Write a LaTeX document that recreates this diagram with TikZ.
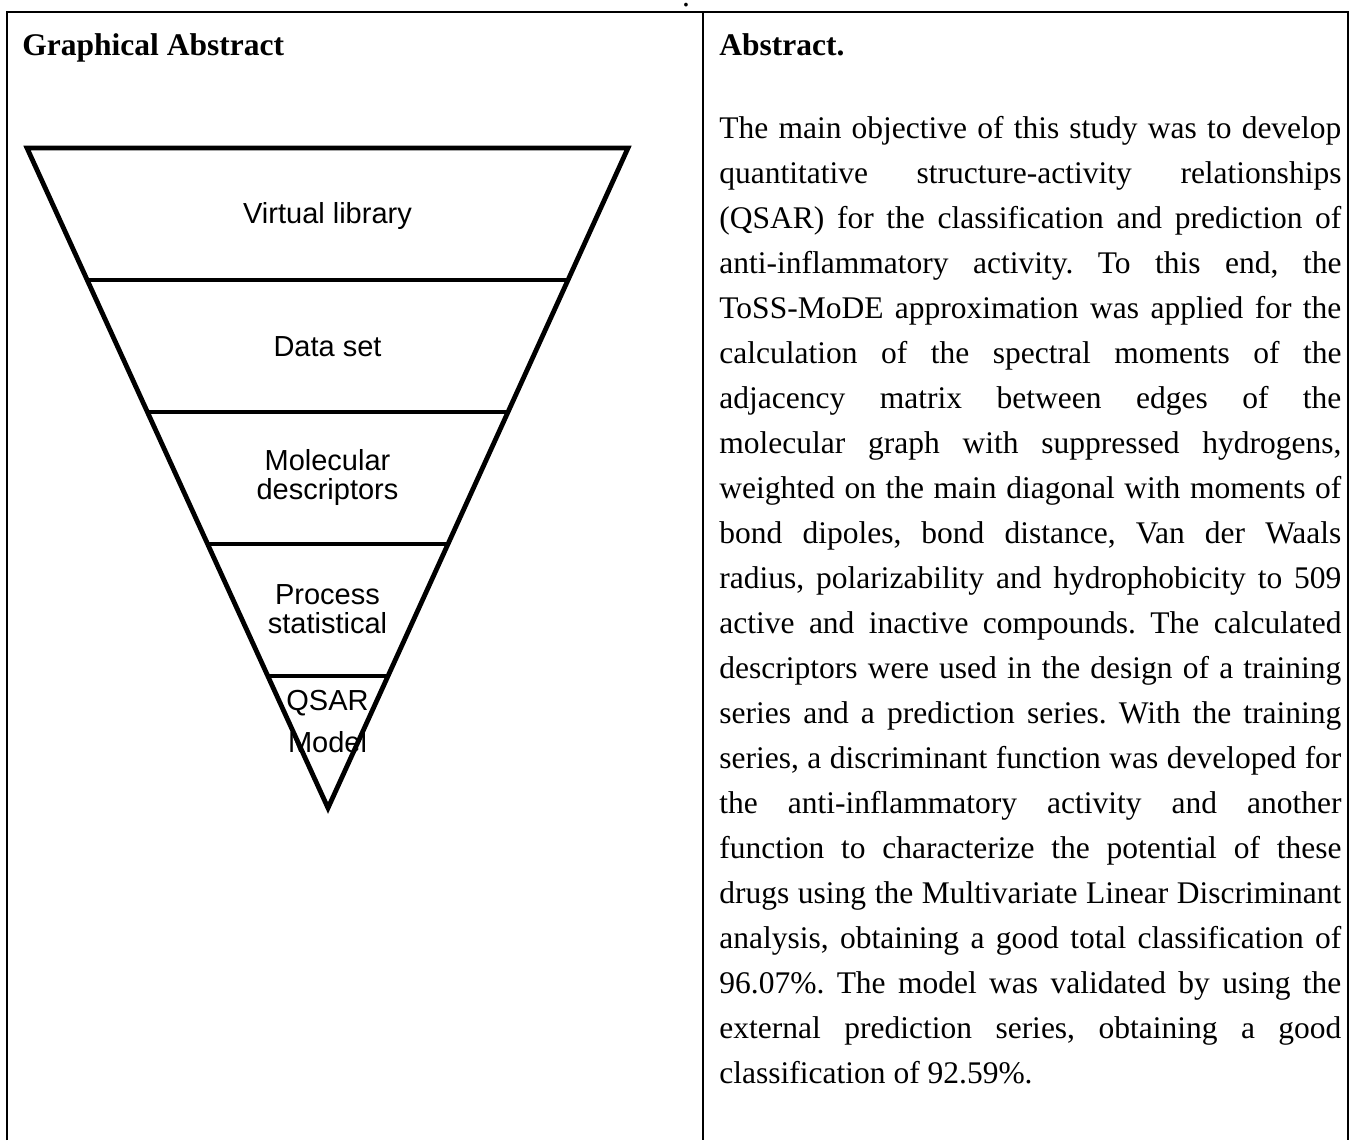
\documentclass[tikz,border=0pt]{standalone}
\usepackage{fontspec}
\setmainfont{Liberation Serif}
\newfontfamily\labelfont{Liberation Sans}
\usetikzlibrary{positioning, calc}
\hbadness=10000
\tolerance=10000
\frenchspacing
\begin{document}
\begin{tikzpicture}[x=0.5pt, y=-0.5pt,
      frame/.style={line width=1.3pt},
      band/.style={line width=2.4pt, line join=miter},
      head/.style={font=\fontsize{15.75}{18}\selectfont\bfseries,
                   anchor=base west, inner sep=0pt},
      lvl/.style={font=\labelfont\fontsize{14.5}{14.5}\selectfont,
                  align=center, inner sep=0pt},
      abs/.style={font=\fontsize{15.75}{22.5}\selectfont, text width=311pt,
                  align=justify, anchor=north west, inner sep=0pt}]
      \useasboundingbox (0,0) rectangle (1352,1140);
      \node[font=\fontsize{15.75}{18}\selectfont, anchor=base, inner sep=0pt]
        (dot) at (686,6.5) {.};
      \draw[frame] (7,1140) -- (7,12) -- (1348,12) -- (1348,1140);
      \draw[frame] (703,12) -- (703,1140);
      \node[head] (ghead) at (22,55)  {Graphical Abstract};
      \node[head] (ahead) at (719,55) {Abstract.};
      \coordinate (tl)  at (27,148);
      \coordinate (tr)  at (628,148);
      \coordinate (tip) at (328,808);
      \draw[band] (tl) -- (tr) -- (tip) -- cycle;
      \foreach \t in {0.2,0.4,0.6,0.8}
        \draw[band] ($(tl)!\t!(tip)$) -- ($(tr)!\t!(tip)$);
      \node[lvl] (lib)  at (327.5,216)   {Virtual library};
      \node[lvl] (data) at (327.5,347)   {Data set};
      \node[lvl] (desc) at (327.5,477.5) {Molecular\\descriptors};
      \node[lvl] (stat) at (327.5,609)   {Process\\statistical};
      \node[lvl, font=\labelfont\fontsize{14.5}{21}\selectfont]
        (qsar) at (327.5,722) {QSAR\\Model};
      \node[abs] (abstxt) at (719,115.7) {The main objective of this study was to develop\break
        quantitative structure-activity relationships\break
        (QSAR) for the classification and prediction of\break
        anti-inflammatory activity. To this end, the\break
        ToSS-MoDE approximation was applied for the\break
        calculation of the spectral moments of the\break
        adjacency matrix between edges of the\break
        molecular graph with suppressed hydrogens,\break
        weighted on the main diagonal with moments of\break
        bond dipoles, bond distance, Van der Waals\break
        radius, polarizability and hydrophobicity to 509\break
        active and inactive compounds. The calculated\break
        descriptors were used in the design of a training\break
        series and a prediction series. With the training\break
        series, a discriminant function was developed for\break
        the anti-inflammatory activity and another\break
        function to characterize the potential of these\break
        drugs using the Multivariate Linear Discriminant\break
        analysis, obtaining a good total classification of\break
        96.07\%. The model was validated by using the\break
        external prediction series, obtaining a good\break
        classification of 92.59\%.};
    \end{tikzpicture}
\end{document}
